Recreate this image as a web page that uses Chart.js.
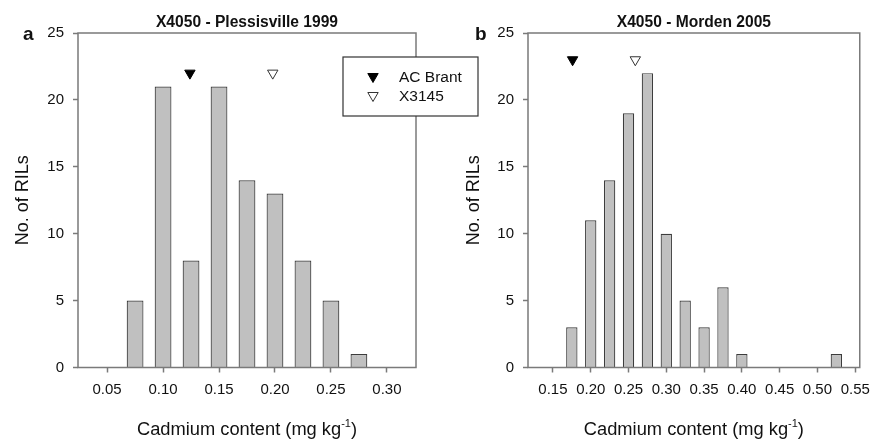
<!DOCTYPE html>
<html>
<head>
<meta charset="utf-8">
<script src="https://cdn.jsdelivr.net/npm/chart.js@4.4.1/dist/chart.umd.min.js"></script>
<style>
  html, body { margin: 0; padding: 0; background: #fff; }
  #wrap { position: relative; width: 878px; height: 439px; overflow: hidden; }
  #chartA { position: absolute; left: 0; top: 0; z-index: 2; }
  #chartB { position: absolute; left: 439px; top: 0; z-index: 1; }
</style>
</head>
<body>
<div id="wrap">
  <canvas id="chartB" width="439" height="439"></canvas>
  <canvas id="chartA" width="500" height="439"></canvas>
</div>
<script>
// panel a : Plessisville 1999
const binsA = [0.075, 0.100, 0.125, 0.150, 0.175, 0.200, 0.225, 0.250, 0.275];
const countsA = [5, 21, 8, 21, 14, 13, 8, 5, 1];
const ticksA = [0.05, 0.10, 0.15, 0.20, 0.25, 0.30];
const parentXA = [0.124, 0.198];   // AC Brant, X3145
const parentYA = [22, 22];

// panel b : Morden 2005
const binsB = [0.175, 0.200, 0.225, 0.250, 0.275, 0.300, 0.325, 0.350, 0.375, 0.400, 0.425, 0.450, 0.475, 0.500, 0.525];
const countsB = [3, 11, 14, 19, 22, 10, 5, 3, 6, 1, 0, 0, 0, 0, 1];
const ticksB = [0.15, 0.20, 0.25, 0.30, 0.35, 0.40, 0.45, 0.50, 0.55];
const parentXB = [0.176, 0.259];
const parentYB = [23, 23];

const yTicks = [0, 5, 10, 15, 20, 25];
const parentNames = ['AC Brant', 'X3145'];
const titleA = 'X4050 - Plessisville 1999';
const titleB = 'X4050 - Morden 2005';
const yTitle = 'No. of RILs';
const xTitle = ['Cadmium content (mg kg', '-1', ')'];

const FONT = '"Liberation Sans", Arial, Helvetica, sans-serif';
const AXIS = '#7a7a7a';
const INK = '#111';

function triPath(ctx, x, y, r) {
    // same geometry as chart.js 'triangle' rotated 180
    let rad = Math.PI;
    ctx.beginPath();
    for (let i = 0; i < 3; i++) {
        const px = x + Math.sin(rad) * r, py = y - Math.cos(rad) * r;
        i === 0 ? ctx.moveTo(px, py) : ctx.lineTo(px, py);
        rad += 2 * Math.PI / 3;
    }
    ctx.closePath();
}

const panelDecor = {
    id: 'panelDecor',
    afterDatasetsDraw(chart) {
        const { ctx, chartArea: a } = chart;
        ctx.save();
        ctx.strokeStyle = AXIS;
        ctx.lineWidth = 1.5;
        ctx.strokeRect(a.left, a.top, a.right - a.left, a.bottom - a.top);
        ctx.restore();
    },
    afterDraw(chart, args, o) {
        const { ctx, chartArea: a } = chart;
        const cx = (a.left + a.right) / 2;
        ctx.save();
        ctx.fillStyle = INK;

        ctx.font = `bold 15.6px ${FONT}`;
        ctx.textAlign = 'center';
        ctx.textBaseline = 'middle';
        ctx.fillText(o.title, cx, 23);

        ctx.font = `bold 19px ${FONT}`;
        ctx.textAlign = 'left';
        ctx.textBaseline = 'alphabetic';
        ctx.fillText(o.letter, o.letterX, 40);

        // y title
        ctx.save();
        ctx.font = `18px ${FONT}`;
        ctx.translate(o.yTitleX, (a.top + a.bottom) / 2);
        ctx.rotate(-Math.PI / 2);
        ctx.textAlign = 'center';
        ctx.textBaseline = 'middle';
        ctx.fillText(yTitle, 0, 0);
        ctx.restore();

        // x title with superscript
        ctx.textAlign = 'left';
        ctx.textBaseline = 'alphabetic';
        ctx.font = `18.3px ${FONT}`;
        const w1 = ctx.measureText(xTitle[0]).width;
        const w3 = ctx.measureText(xTitle[2]).width;
        ctx.font = `11px ${FONT}`;
        const w2 = ctx.measureText(xTitle[1]).width;
        let x0 = cx - (w1 + w2 + w3) / 2;
        const base = 435;
        ctx.font = `18.3px ${FONT}`;
        ctx.fillText(xTitle[0], x0, base);
        ctx.font = `11px ${FONT}`;
        ctx.fillText(xTitle[1], x0 + w1, base - 8);
        ctx.font = `18.3px ${FONT}`;
        ctx.fillText(xTitle[2], x0 + w1 + w2, base);

        if (o.legend) {
            const L = o.legend;
            ctx.fillStyle = '#fff';
            ctx.fillRect(L.x, L.y, L.w, L.h);
            ctx.strokeStyle = '#333';
            ctx.lineWidth = 1.2;
            ctx.strokeRect(L.x, L.y, L.w, L.h);
            const sets = chart.data.datasets.filter(d => d.type === 'scatter');
            sets.forEach((d, i) => {
                const ry = L.rowY[i];
                triPath(ctx, L.markX, ry - 1.5, d.pointRadius);
                ctx.fillStyle = d.backgroundColor;
                ctx.fill();
                ctx.strokeStyle = d.borderColor;
                ctx.lineWidth = d.borderWidth;
                ctx.stroke();
                ctx.fillStyle = INK;
                ctx.font = `15.5px ${FONT}`;
                ctx.textBaseline = 'middle';
                ctx.fillText(d.label, L.textX, ry);
            });
        }
        ctx.restore();
    }
};

function buildChart(id, cfg) {
    const bars = cfg.bins.map((x, i) => ({ x: x, y: cfg.counts[i] })).filter(p => p.y > 0);
    return new Chart(document.getElementById(id), {
        type: 'bar',
        data: {
            datasets: [
                {
                    type: 'bar',
                    data: bars,
                    backgroundColor: '#c0c0c0',
                    borderColor: '#3c3c3c',
                    borderWidth: 1.2,
                    barPercentage: 0.6,
                    categoryPercentage: 1.0
                },
                {
                    type: 'scatter',
                    label: parentNames[0],
                    data: [{ x: cfg.px[0], y: cfg.py[0] }],
                    pointStyle: 'triangle',
                    rotation: 180,
                    pointRadius: 6,
                    backgroundColor: '#000',
                    borderColor: '#000',
                    borderWidth: 1
                },
                {
                    type: 'scatter',
                    label: parentNames[1],
                    data: [{ x: cfg.px[1], y: cfg.py[1] }],
                    pointStyle: 'triangle',
                    rotation: 180,
                    pointRadius: 6,
                    backgroundColor: '#fff',
                    borderColor: '#333',
                    borderWidth: 1
                }
            ]
        },
        options: {
            responsive: false,
            animation: false,
            events: [],
            layout: { padding: { left: 0, top: 33, right: cfg.padRight, bottom: 0 } },
            plugins: {
                legend: { display: false },
                tooltip: { enabled: false },
                panelDecor: cfg.decor
            },
            scales: {
                x: {
                    type: 'linear',
                    min: cfg.xMin,
                    max: cfg.xMax,
                    offset: false,
                    afterFit: s => { s.height = 71.5; },
                    afterBuildTicks: s => { s.ticks = cfg.ticks.map(v => ({ value: v })); },
                    grid: { offset: false, drawOnChartArea: false, drawTicks: true, tickLength: 5, tickColor: AXIS, tickWidth: 1.5 },
                    border: { display: false },
                    ticks: {
                        autoSkip: false, maxRotation: 0, padding: 8, color: INK,
                        font: { family: FONT, size: 15 },
                        callback: v => v.toFixed(2)
                    }
                },
                y: {
                    min: 0,
                    max: 25,
                    afterFit: s => { s.width = cfg.yWidth; },
                    afterBuildTicks: s => { s.ticks = yTicks.map(v => ({ value: v })); },
                    grid: { drawOnChartArea: false, drawTicks: true, tickLength: 5, tickColor: AXIS, tickWidth: 1.5 },
                    border: { display: false },
                    ticks: { padding: 9, color: INK, font: { family: FONT, size: 15 } }
                }
            }
        },
        plugins: [panelDecor]
    });
}

buildChart('chartA', {
    bins: binsA, counts: countsA, ticks: ticksA, px: parentXA, py: parentYA,
    xMin: 0.024, xMax: 0.326, yWidth: 78, padRight: 84,
    decor: {
        title: titleA, letter: 'a', letterX: 23, yTitleX: 23.5,
        legend: { x: 343, y: 57, w: 135, h: 59, markX: 373, textX: 399, rowY: [78, 97] }
    }
});

buildChart('chartB', {
    bins: binsB, counts: countsB, ticks: ticksB, px: parentXB, py: parentYB,
    xMin: 0.117, xMax: 0.556, yWidth: 89, padRight: 13,
    decor: { title: titleB, letter: 'b', letterX: 36, yTitleX: 35 }
});
</script>
</body>
</html>
